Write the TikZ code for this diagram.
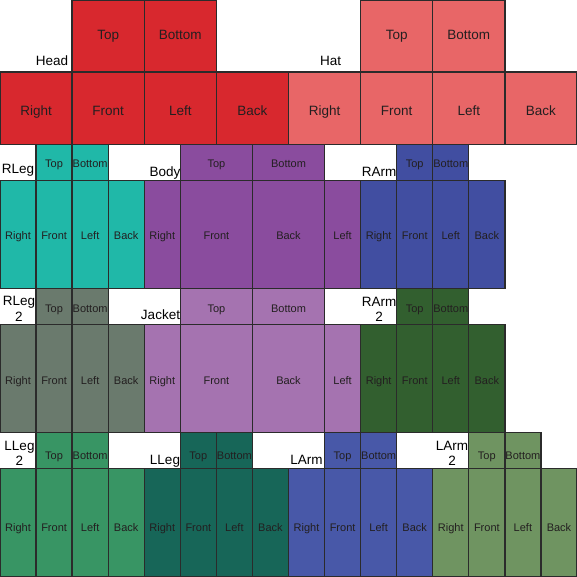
\documentclass[tikz,border=0pt]{standalone}
\usepackage{fontspec}
\setmainfont{Liberation Sans}
\newcommand\skunit{9.015625pt}
\definecolor{headc}{HTML}{D8282E}
\definecolor{hatc}{HTML}{E86667}
\definecolor{rlegc}{HTML}{20B8A8}
\definecolor{bodyc}{HTML}{8A4C9E}
\definecolor{rarmc}{HTML}{414EA1}
\definecolor{rlegtc}{HTML}{6A7A6D}
\definecolor{jackc}{HTML}{A573B0}
\definecolor{rarmtc}{HTML}{325F2F}
\definecolor{llegtc}{HTML}{389564}
\definecolor{llegc}{HTML}{176658}
\definecolor{larmc}{HTML}{4858A8}
\definecolor{larmtc}{HTML}{6F9461}
\definecolor{edgec}{HTML}{2B2B2B}
\definecolor{txtc}{HTML}{231F20}
\newcommand\face[7]{\node[face,#7,minimum width=#4*\skunit,minimum height=#5*\skunit] (#1) at ({#2+#4/2},{#3+#5/2}) {#6};}
\tikzset{
  face/.style={draw=edgec,line width=1.3pt,inner sep=0pt,outer sep=0pt,text=txtc,text depth=0pt,font=\fontsize{11}{13}\selectfont},
  big/.style={font=\fontsize{13.5}{15.5}\selectfont},
  ra/.style={text height=6.6pt},
  rb/.style={text height=14pt},
  rc/.style={text height=9.6pt},
  rd/.style={text height=10pt},
  re/.style={text height=12.6pt},
  rf/.style={text height=12.6pt},
  rg/.style={text height=17.4pt},
  rh/.style={text height=17pt},
  lab/.style={inner sep=0pt,outer sep=0pt,anchor=base,text=black,align=center,font=\fontsize{13.5}{15.5}\selectfont}
}
\begin{document}
\begin{tikzpicture}[x=\skunit,y=-\skunit]
\useasboundingbox (0,0) rectangle (64,64);
% Head
\face{headtop}{8}{0}{8}{8}{Top}{fill=headc,big,ra}
\face{headbottom}{16}{0}{8}{8}{Bottom}{fill=headc,big,ra}
\face{headright}{0}{8}{8}{8}{Right}{fill=headc,big,rb}
\face{headfront}{8}{8}{8}{8}{Front}{fill=headc,big,rb}
\face{headleft}{16}{8}{8}{8}{Left}{fill=headc,big,rb}
\face{headback}{24}{8}{8}{8}{Back}{fill=headc,big,rb}
% Hat
\face{hattop}{40}{0}{8}{8}{Top}{fill=hatc,big,ra}
\face{hatbottom}{48}{0}{8}{8}{Bottom}{fill=hatc,big,ra}
\face{hatright}{32}{8}{8}{8}{Right}{fill=hatc,big,rb}
\face{hatfront}{40}{8}{8}{8}{Front}{fill=hatc,big,rb}
\face{hatleft}{48}{8}{8}{8}{Left}{fill=hatc,big,rb}
\face{hatback}{56}{8}{8}{8}{Back}{fill=hatc,big,rb}
% RLeg
\face{rlegtop}{4}{16}{4}{4}{Top}{fill=rlegc,rc}
\face{rlegbottom}{8}{16}{4}{4}{Bottom}{fill=rlegc,rc}
\face{rlegright}{0}{20}{4}{12}{Right}{fill=rlegc,rd}
\face{rlegfront}{4}{20}{4}{12}{Front}{fill=rlegc,rd}
\face{rlegleft}{8}{20}{4}{12}{Left}{fill=rlegc,rd}
\face{rlegback}{12}{20}{4}{12}{Back}{fill=rlegc,rd}
% Body
\face{bodytop}{20}{16}{8}{4}{Top}{fill=bodyc,rc}
\face{bodybottom}{28}{16}{8}{4}{Bottom}{fill=bodyc,rc}
\face{bodyright}{16}{20}{4}{12}{Right}{fill=bodyc,rd}
\face{bodyfront}{20}{20}{8}{12}{Front}{fill=bodyc,rd}
\face{bodyback}{28}{20}{8}{12}{Back}{fill=bodyc,rd}
\face{bodyleft}{36}{20}{4}{12}{Left}{fill=bodyc,rd}
% RArm
\face{rarmtop}{44}{16}{4}{4}{Top}{fill=rarmc,rc}
\face{rarmbottom}{48}{16}{4}{4}{Bottom}{fill=rarmc,rc}
\face{rarmright}{40}{20}{4}{12}{Right}{fill=rarmc,rd}
\face{rarmfront}{44}{20}{4}{12}{Front}{fill=rarmc,rd}
\face{rarmleft}{48}{20}{4}{12}{Left}{fill=rarmc,rd}
\face{rarmback}{52}{20}{4}{12}{Back}{fill=rarmc,rd}
% RLeg 2
\face{rlegttop}{4}{32}{4}{4}{Top}{fill=rlegtc,re}
\face{rlegtbottom}{8}{32}{4}{4}{Bottom}{fill=rlegtc,re}
\face{rlegtright}{0}{36}{4}{12}{Right}{fill=rlegtc,rf}
\face{rlegtfront}{4}{36}{4}{12}{Front}{fill=rlegtc,rf}
\face{rlegtleft}{8}{36}{4}{12}{Left}{fill=rlegtc,rf}
\face{rlegtback}{12}{36}{4}{12}{Back}{fill=rlegtc,rf}
% Jacket
\face{jacktop}{20}{32}{8}{4}{Top}{fill=jackc,re}
\face{jackbottom}{28}{32}{8}{4}{Bottom}{fill=jackc,re}
\face{jackright}{16}{36}{4}{12}{Right}{fill=jackc,rf}
\face{jackfront}{20}{36}{8}{12}{Front}{fill=jackc,rf}
\face{jackback}{28}{36}{8}{12}{Back}{fill=jackc,rf}
\face{jackleft}{36}{36}{4}{12}{Left}{fill=jackc,rf}
% RArm 2
\face{rarmttop}{44}{32}{4}{4}{Top}{fill=rarmtc,re}
\face{rarmtbottom}{48}{32}{4}{4}{Bottom}{fill=rarmtc,re}
\face{rarmtright}{40}{36}{4}{12}{Right}{fill=rarmtc,rf}
\face{rarmtfront}{44}{36}{4}{12}{Front}{fill=rarmtc,rf}
\face{rarmtleft}{48}{36}{4}{12}{Left}{fill=rarmtc,rf}
\face{rarmtback}{52}{36}{4}{12}{Back}{fill=rarmtc,rf}
% LLeg 2
\face{llegttop}{4}{48}{4}{4}{Top}{fill=llegtc,rg}
\face{llegtbottom}{8}{48}{4}{4}{Bottom}{fill=llegtc,rg}
\face{llegtright}{0}{52}{4}{12}{Right}{fill=llegtc,rh}
\face{llegtfront}{4}{52}{4}{12}{Front}{fill=llegtc,rh}
\face{llegtleft}{8}{52}{4}{12}{Left}{fill=llegtc,rh}
\face{llegtback}{12}{52}{4}{12}{Back}{fill=llegtc,rh}
% LLeg
\face{llegtop}{20}{48}{4}{4}{Top}{fill=llegc,rg}
\face{llegbottom}{24}{48}{4}{4}{Bottom}{fill=llegc,rg}
\face{llegright}{16}{52}{4}{12}{Right}{fill=llegc,rh}
\face{llegfront}{20}{52}{4}{12}{Front}{fill=llegc,rh}
\face{llegleft}{24}{52}{4}{12}{Left}{fill=llegc,rh}
\face{llegback}{28}{52}{4}{12}{Back}{fill=llegc,rh}
% LArm
\face{larmtop}{36}{48}{4}{4}{Top}{fill=larmc,rg}
\face{larmbottom}{40}{48}{4}{4}{Bottom}{fill=larmc,rg}
\face{larmright}{32}{52}{4}{12}{Right}{fill=larmc,rh}
\face{larmfront}{36}{52}{4}{12}{Front}{fill=larmc,rh}
\face{larmleft}{40}{52}{4}{12}{Left}{fill=larmc,rh}
\face{larmback}{44}{52}{4}{12}{Back}{fill=larmc,rh}
% LArm 2
\face{larmttop}{52}{48}{4}{4}{Top}{fill=larmtc,rg}
\face{larmtbottom}{56}{48}{4}{4}{Bottom}{fill=larmtc,rg}
\face{larmtright}{48}{52}{4}{12}{Right}{fill=larmtc,rh}
\face{larmtfront}{52}{52}{4}{12}{Front}{fill=larmtc,rh}
\face{larmtleft}{56}{52}{4}{12}{Left}{fill=larmtc,rh}
\face{larmtback}{60}{52}{4}{12}{Back}{fill=larmtc,rh}
% labels
\node[lab] (lhead) at (52pt,-66pt) {Head};
\node[lab] (lhat) at (330.5pt,-66pt) {Hat};
\node[lab] (lrleg) at (18pt,-173.5pt) {RLeg};
\node[lab] (lbody) at (165pt,-176.5pt) {Body};
\node[lab] (lrarm) at (379pt,-176.5pt) {RArm};
\node[lab] (lrlegt) at (19pt,-321pt) {RLeg\\2};
\node[lab] (ljack) at (160.5pt,-319.5pt) {Jacket};
\node[lab] (lrarmt) at (379pt,-321.5pt) {RArm\\2};
\node[lab] (llegt) at (19.5pt,-465.5pt) {LLeg\\2};
\node[lab] (lleg) at (165pt,-464pt) {LLeg};
\node[lab] (larm) at (306.5pt,-464pt) {LArm};
\node[lab] (larmt) at (452pt,-465.5pt) {LArm\\2};
\end{tikzpicture}
\end{document}
